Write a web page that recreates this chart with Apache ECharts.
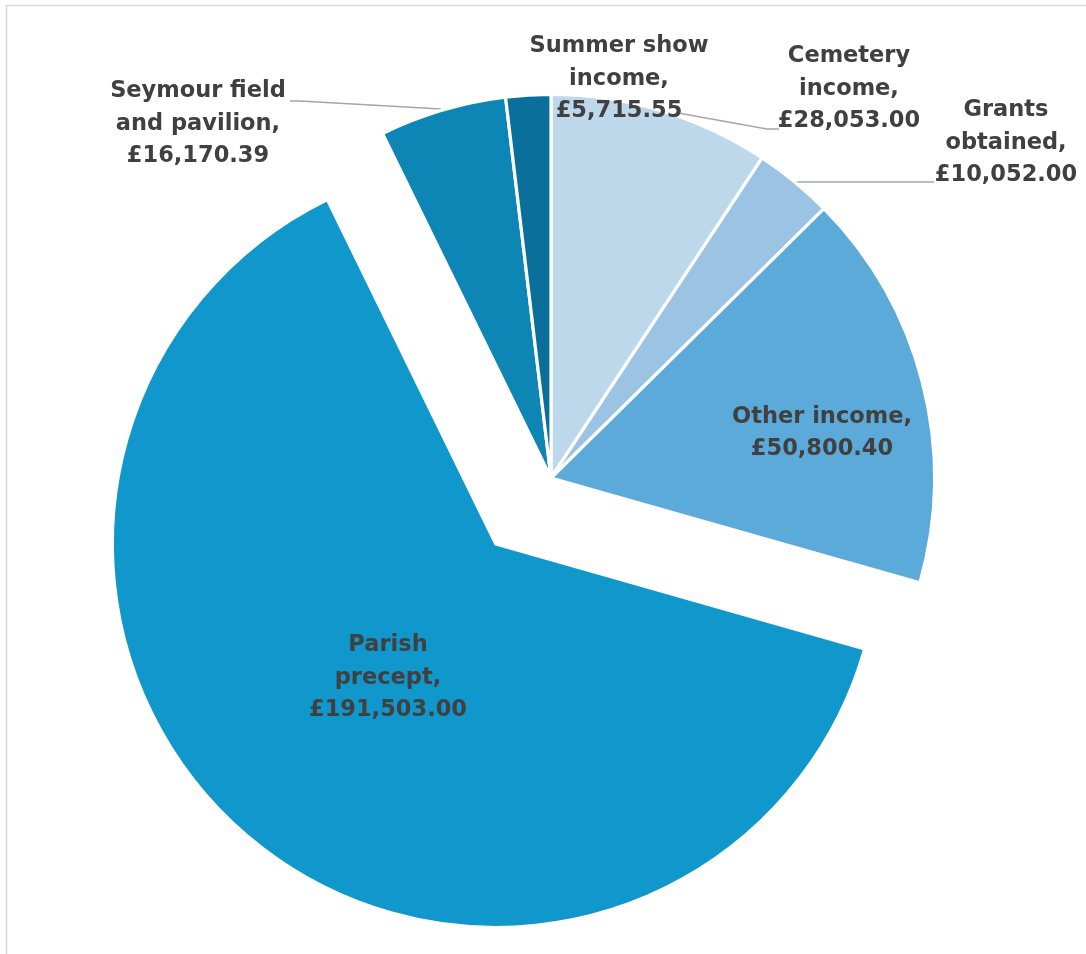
<!DOCTYPE html>
<html>
<head>
<meta charset="utf-8">
<title>Income breakdown</title>
<script src="https://cdn.jsdelivr.net/npm/echarts@6/dist/echarts.min.js"></script>
<style>
  html, body { margin: 0; padding: 0; background: #ffffff; }
  #chart { width: 1086px; height: 954px; }
</style>
</head>
<body>
<div id="chart"></div>
<script>
// Income sources, clockwise from twelve o'clock
const categories = [
  'Cemetery income',
  'Grants obtained',
  'Other income',
  'Parish precept',
  'Seymour field and pavilion',
  'Summer show income'
];
const values = [28053.00, 10052.00, 50800.40, 191503.00, 16170.39, 5715.55];
// How each category name is broken across lines in its label
const labelNames = [
  'Cemetery\nincome,',
  'Grants\nobtained,',
  'Other income,',
  'Parish\nprecept,',
  'Seymour field\nand pavilion,',
  'Summer show\nincome,'
];
const colors = ['#BDD7EB', '#9BC3E4', '#5CAADA', '#1097CB', '#0D86B6', '#0A6F9A'];
const explodedIndex = 3;

function money(v) {
  const parts = v.toFixed(2).split('.');
  parts[0] = parts[0].replace(/\B(?=(\d{3})+(?!\d))/g, ',');
  return '\u00a3' + parts[0] + '.' + parts[1];
}

// Pie geometry
const pieCenter = [551, 478];
const pieRadius = 383.5;
const explodeDistance = 86;

// The exploded slice is pulled out along its own bisector
const total = values.reduce((a, b) => a + b, 0);
const before = values.slice(0, explodedIndex).reduce((a, b) => a + b, 0);
const midAngle = (before + values[explodedIndex] / 2) / total * 2 * Math.PI;
const explodedCenter = [
  pieCenter[0] + explodeDistance * Math.sin(midAngle),
  pieCenter[1] - explodeDistance * Math.cos(midAngle)
];

// Label anchor points (centre of each text block) and leader lines
const labelSpots = [
  { x: 849, y: 89, line: [[678, 113], [767, 129], [779, 129]] },
  { x: 1006, y: 143, line: [[788, 182], [930, 182], [934, 182]] },
  { x: 822, y: 433 },
  { x: 388, y: 678 },
  { x: 198, y: 124, line: [[441, 109], [300, 101], [290, 101]] },
  { x: 619, y: 79 }
];

const labelStyle = {
  show: true,
  position: 'outside',
  color: '#404040',
  fontFamily: '"DejaVu Sans", sans-serif',
  fontWeight: 'bold',
  fontSize: 22.5,
  lineHeight: 32.5,
  align: 'center',
  formatter: (p) => labelNames[p.dataIndex] + '\n' + money(p.value)
};

const labelLayout = (params) => {
  const s = labelSpots[params.dataIndex];
  const out = { x: s.x, y: s.y, align: 'center', verticalAlign: 'middle' };
  if (s.line) out.labelLinePoints = s.line;
  return out;
};

const hidden = {
  itemStyle: { color: 'transparent', borderWidth: 0 },
  label: { show: false },
  labelLine: { show: false }
};

// Main ring: every slice except the exploded one
const mainData = categories.map((name, i) => {
  const item = { name: name, value: values[i] };
  if (i === explodedIndex) return Object.assign(item, hidden);
  item.itemStyle = { color: colors[i] };
  item.labelLine = { show: !!labelSpots[i].line };
  return item;
});

// Offset ring: only the exploded slice is drawn
const explodedData = categories.map((name, i) => {
  const item = { name: name, value: values[i] };
  if (i !== explodedIndex) return Object.assign(item, hidden);
  item.itemStyle = { color: colors[i] };
  item.labelLine = { show: false };
  return item;
});

const baseSeries = {
  type: 'pie',
  radius: [0, pieRadius],
  startAngle: 90,
  clockwise: true,
  avoidLabelOverlap: false,
  itemStyle: { borderColor: '#ffffff', borderWidth: 3.2 },
  emphasis: { disabled: true },
  label: labelStyle,
  labelLine: { show: true, lineStyle: { color: '#a6a6a6', width: 1.5 } },
  labelLayout: labelLayout
};

const chart = echarts.init(document.getElementById('chart'), null, { renderer: 'canvas' });

chart.setOption({
  animation: false,
  backgroundColor: '#ffffff',
  graphic: [{
    type: 'rect',
    z: -1,
    shape: { x: 6.5, y: 5.5, width: 1200, height: 1200 },
    style: { fill: 'none', stroke: '#d9d9d9', lineWidth: 1.6 }
  }],
  series: [
    Object.assign({}, baseSeries, { name: 'Income', center: pieCenter, data: mainData }),
    Object.assign({}, baseSeries, { name: 'Income (exploded)', center: explodedCenter, data: explodedData })
  ]
});
</script>
</body>
</html>
